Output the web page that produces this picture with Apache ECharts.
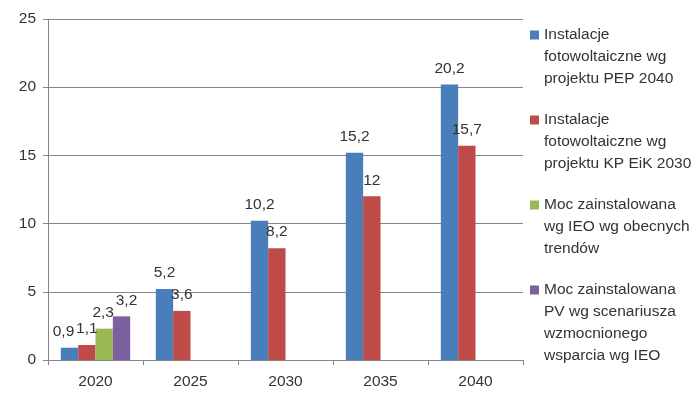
<!DOCTYPE html>
<html>
<head>
<meta charset="utf-8">
<script src="https://cdn.jsdelivr.net/npm/echarts@6/dist/echarts.min.js"></script>
<style>
  html, body { margin: 0; padding: 0; background: #fff; }
  #chart { width: 700px; height: 399px; }
</style>
</head>
<body>
<div id="chart"></div>
<script>
// lata
const years = ['2020', '2025', '2030', '2035', '2040']
// serie
const seriesNames = [
  'Instalacje fotowoltaiczne wg projektu PEP 2040',
  'Instalacje fotowoltaiczne wg projektu KP EiK 2030',
  'Moc zainstalowana wg IEO wg obecnych trendów',
  'Moc zainstalowana PV wg scenariusza wzmocnionego wsparcia wg IEO'
]
// linie tekstu legendy
const legendLines = [
  ['Instalacje', 'fotowoltaiczne wg', 'projektu PEP 2040'],
  ['Instalacje', 'fotowoltaiczne wg', 'projektu KP EiK 2030'],
  ['Moc zainstalowana', 'wg IEO wg obecnych', 'trendów'],
  ['Moc zainstalowana', 'PV wg scenariusza', 'wzmocnionego', 'wsparcia wg IEO']
]
const pep2040 = [0.9, 5.2, 10.2, 15.2, 20.2]
const kpEik2030 = [1.1, 3.6, 8.2, 12, 15.7]
const ieoTrend = [2.3, null, null, null, null]
const ieoSupport = [3.2, null, null, null, null]
const yTicks = [0, 5, 10, 15, 20, 25]

const colors = ['#4a7ebb', '#be4b48', '#98b954', '#7d60a0']
const values = [pep2040, kpEik2030, ieoTrend, ieoSupport]
const font = 'Liberation Sans, Arial, sans-serif'
// przesunięcie etykiet w 2020, żeby nie nachodziły na siebie
const labelShift2020 = [-6, 0, -1, 5]

const chart = echarts.init(document.getElementById('chart'))

const lineH = 22
// środek ikony dla każdej pozycji legendy
const legendCenters = [35, 120, 205, 290]

// ikona przy pierwszej linii: puste linie na górze, żeby ją wycentrować
const legends = seriesNames.map((name, i) => {
  const n = legendLines[i].length
  const text = ' \n'.repeat(n - 1) + legendLines[i].join('\n')
  return {
    data: [name],
    orient: 'vertical',
    left: 530,
    top: legendCenters[i] - (2 * n - 1) * lineH / 2,
    padding: 0,
    itemWidth: 9,
    itemHeight: 9,
    itemGap: 0,
    icon: 'rect',
    formatter: () => text,
    textStyle: {
      fontFamily: font,
      fontSize: 15.5,
      color: '#333',
      lineHeight: lineH
    }
  }
})

const option = {
  color: colors,
  animation: false,
  grid: { left: 48, right: 177, top: 19, bottom: 39 },
  legend: legends,
  xAxis: {
    type: 'category',
    data: years,
    axisLine: { lineStyle: { color: '#868686' } },
    axisTick: { show: true, length: 5, lineStyle: { color: '#868686' } },
    axisLabel: {
      fontFamily: font,
      fontSize: 15.5,
      color: '#333',
      margin: 14
    }
  },
  yAxis: {
    type: 'value',
    min: yTicks[0],
    max: yTicks[yTicks.length - 1],
    interval: 5,
    axisLine: { show: true, lineStyle: { color: '#868686' } },
    axisTick: { show: true, length: 5, lineStyle: { color: '#868686' } },
    splitLine: { lineStyle: { color: '#868686' } },
    axisLabel: {
      fontFamily: font,
      fontSize: 15.5,
      color: '#333',
      margin: 12
    }
  },
  series: seriesNames.map((name, i) => ({
    name: name,
    type: 'bar',
    data: values[i].map((v, j) =>
      j === 0 ? { value: v, label: { offset: [labelShift2020[i], 0] } } : v
    ),
    barGap: 0,
    barCategoryGap: '27%',
    label: {
      show: true,
      position: 'top',
      distance: 8,
      fontFamily: font,
      fontSize: 15.5,
      color: '#333',
      formatter: p => String(p.value).replace('.', ',')
    }
  }))
}

chart.setOption(option)
</script>
</body>
</html>
